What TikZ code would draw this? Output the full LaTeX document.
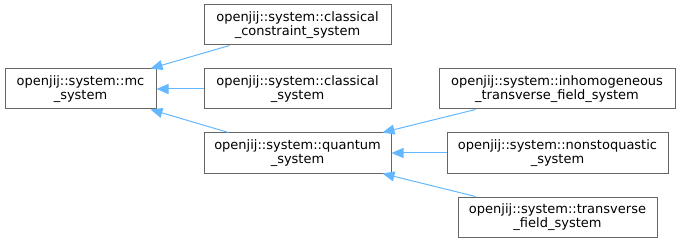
\documentclass[tikz,border=0pt]{standalone}
\usepackage{fontspec}
\setmainfont{DejaVu Sans}
\usetikzlibrary{arrows.meta}
\definecolor{edgeblue}{HTML}{63B8FF}
\definecolor{boxgray}{HTML}{666666}
\tikzset{
  cls/.style={draw=boxgray, line width=1pt, fill=white, align=center,
    minimum height=40pt, inner sep=0pt, font=\fontsize{13}{14}\selectfont},
  inh/.style={draw=edgeblue, line width=1pt,
    -{Triangle[length=12pt,width=10pt]}},
}
\begin{document}
\begin{tikzpicture}[x=1pt,y=-1pt]
\useasboundingbox (0,0) rectangle (680,243);
\node[cls,minimum width=151pt] (mc) at (80.5,89) {openjij::system::mc\\\_system};
\node[cls,minimum width=187pt] (clc) at (297.5,25) {openjij::system::classical\\\_constraint\_system};
\node[cls,minimum width=187pt] (cl) at (297.5,89) {openjij::system::classical\\\_system};
\node[cls,minimum width=187pt] (qu) at (297.5,153) {openjij::system::quantum\\\_system};
\node[cls,minimum width=236pt] (ihtf) at (557,89) {openjij::system::inhomogeneous\\\_transverse\_field\_system};
\node[cls,minimum width=221pt] (nsq) at (557.5,153) {openjij::system::nonstoquastic\\\_system};
\node[cls,minimum width=199pt] (tf) at (557.5,217) {openjij::system::transverse\\\_field\_system};
\draw[inh] ([xshift=26pt]clc.south west) to ([xshift=-6pt]mc.north east);
\draw[inh] (cl.west) to (mc.east);
\draw[inh] ([xshift=25pt]qu.north west) to ([xshift=-6pt]mc.south east);
\draw[inh] ([xshift=37pt]ihtf.south west) to ([xshift=-9pt]qu.north east);
\draw[inh] (nsq.west) to (qu.east);
\draw[inh] ([xshift=18pt]tf.north west) to ([xshift=-9pt]qu.south east);
\end{tikzpicture}
\end{document}
